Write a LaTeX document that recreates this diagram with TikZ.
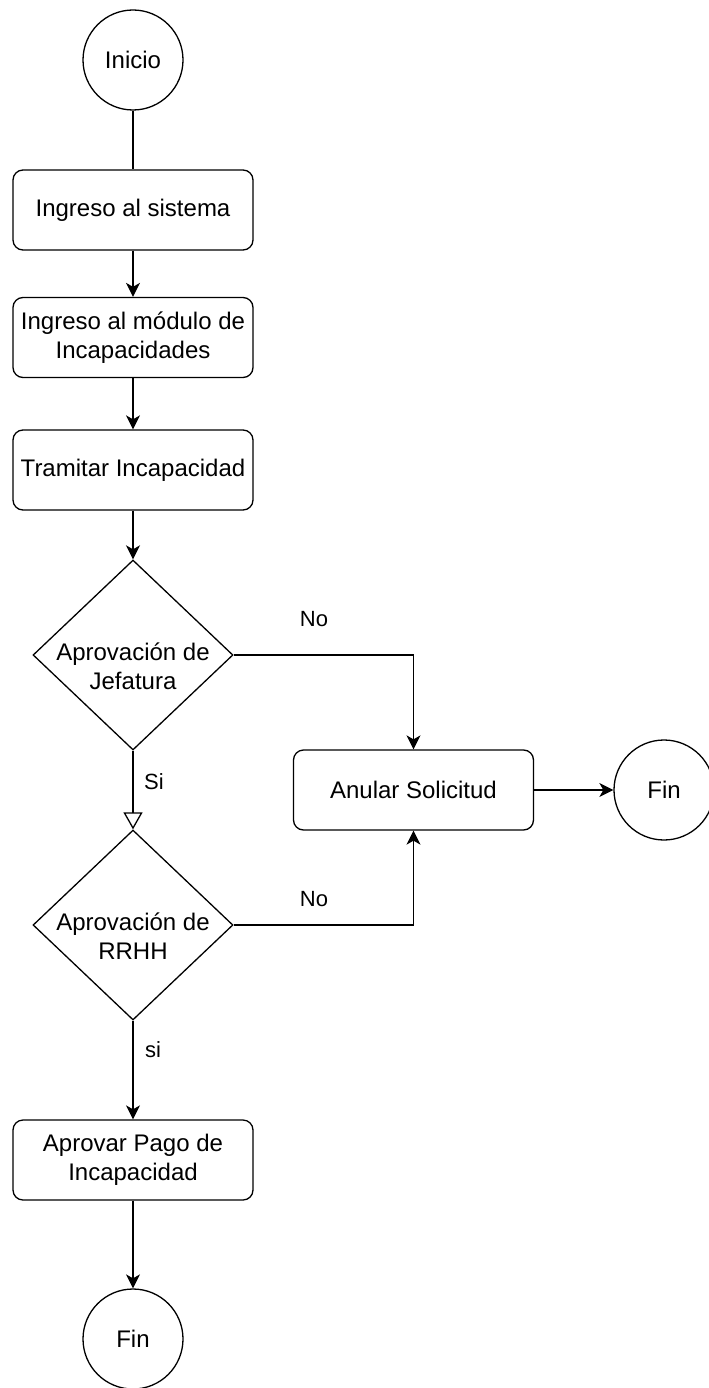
\documentclass[tikz,border=0pt]{standalone}
\usepackage{fontspec}
\setmainfont{Liberation Sans}
\usetikzlibrary{shapes.geometric,arrows.meta}
\tikzset{
  base/.style={draw=black, line width=1.3bp, font=\fontsize{24bp}{28.8bp}\selectfont, align=center, inner sep=0pt},
  procbox/.style={base, rectangle, rounded corners=10bp, minimum width=240bp, minimum height=80bp},
  term/.style={base, circle, minimum size=100bp},
  dia/.style={base, diamond, minimum width=200bp, minimum height=190bp},
  dtext/.style={font=\fontsize{24bp}{28.8bp}\selectfont, align=center, inner sep=0pt},
  elabel/.style={font=\fontsize{22bp}{26bp}\selectfont, inner sep=0pt},
  conn/.style={line width=1.3bp, draw=black},
  arr/.style={conn, -{Stealth[length=14bp,width=14bp,inset=4bp]}},
  harr/.style={conn, -{Triangle[open,length=17bp,width=19bp]}}
}
\begin{document}
\begin{tikzpicture}[x=1bp,y=-1bp]
\useasboundingbox (0,0) rectangle (708,1388);
\node[term] (inicio) at (133,60) {Inicio};
\node[procbox] (s1) at (133,210) {Ingreso al sistema};
\node[procbox] (s2) at (133,337.5) {Ingreso al módulo de\\Incapacidades};
\node[procbox] (s3) at (133,470) {Tramitar Incapacidad};
\node[dia] (d1) at (133,655) {};
\node[dtext] (d1t) at (133,666) {Aprovación de\\Jefatura};
\node[dia] (d2) at (133,925) {};
\node[dtext] (d2t) at (133,936) {Aprovación de\\RRHH};
\node[procbox] (an) at (413.5,790) {Anular Solicitud};
\node[term] (fin1) at (664,790) {Fin};
\node[procbox] (s4) at (133,1160) {Aprovar Pago de\\Incapacidad};
\node[term] (fin2) at (133,1339) {Fin};

\draw[conn] (inicio) -- (s1);
\draw[arr] (s1) -- (s2);
\draw[arr] (s2) -- (s3);
\draw[arr] (s3) -- (d1);
\draw[arr] (d1.east) -| (an.north);
\draw[harr] (d1.south) -- (d2.north);
\draw[arr] (d2.east) -| (an.south);
\draw[arr] (d2.south) -- (s4.north);
\draw[arr] (an.east) -- (fin1.west);
\draw[arr] (s4.south) -- (fin2.north);

\node[elabel] (no1) at (314,619) {No};
\node[elabel] (si1) at (154,782) {Si};
\node[elabel] (no2) at (314,899) {No};
\node[elabel] (si2) at (153,1050) {si};
\end{tikzpicture}
\end{document}
